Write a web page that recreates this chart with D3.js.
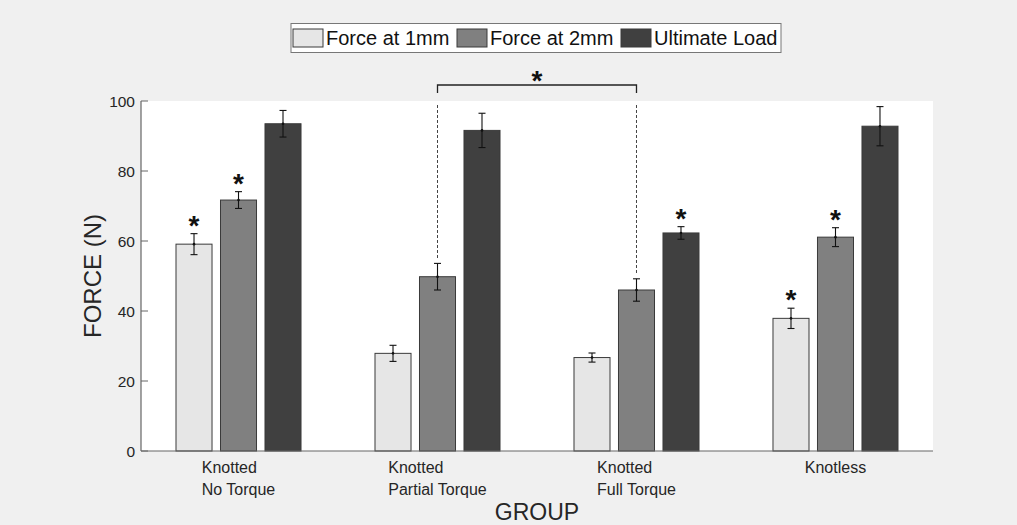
<!DOCTYPE html>
<html>
<head>
<meta charset="utf-8">
<script src="https://cdn.jsdelivr.net/npm/d3@7"></script>
<style>
  html, body { margin: 0; padding: 0; background: #f0f0f0; }
  svg { display: block; font-family: "Liberation Sans", Arial, sans-serif; }
</style>
</head>
<body>
<div id="chart"></div>
<script>
// group labels, one array of lines per group
const groups = [["Knotted", "No Torque"], ["Knotted", "Partial Torque"], ["Knotted", "Full Torque"], ["Knotless"]];
const seriesNames = ["Force at 1mm", "Force at 2mm", "Ultimate Load"];

// mean values and error (N)
const force1mm = [59.1, 27.9, 26.7, 37.9];
const err1mm = [3.0, 2.3, 1.3, 2.9];
const force2mm = [71.7, 49.8, 46.0, 61.1];
const err2mm = [2.4, 3.8, 3.2, 2.7];
const ultimate = [93.5, 91.6, 62.3, 92.8];
const errUlt = [3.8, 4.9, 1.8, 5.6];

// asterisk above bar
const sig1mm = [true, false, false, true];
const sig2mm = [true, false, false, true];
const sigUlt = [false, false, true, false];

const yTicks = [0, 20, 40, 60, 80, 100];

const series = [
    { name: seriesNames[0], values: force1mm, errs: err1mm, sig: sig1mm, fill: "#e6e6e6" },
    { name: seriesNames[1], values: force2mm, errs: err2mm, sig: sig2mm, fill: "#808080" },
    { name: seriesNames[2], values: ultimate, errs: errUlt, sig: sigUlt, fill: "#404040" }
];

const W = 1017, H = 525;
const plot = { left: 141, right: 933, top: 101, bottom: 451 };

const svg = d3.select("#chart").append("svg")
    .attr("width", W).attr("height", H);

svg.append("rect").attr("width", W).attr("height", H).attr("fill", "#f0f0f0");

const x = d3.scaleLinear().domain([0.51, 4.49]).range([plot.left, plot.right]);
const y = d3.scaleLinear().domain([0, 100]).range([plot.bottom, plot.top]);

const offset = 0.2236;   // bar offset within group (x units)
const barW = 0.181;      // bar width (x units)

// plot area
svg.append("rect")
    .attr("x", plot.left).attr("y", plot.top)
    .attr("width", plot.right - plot.left).attr("height", plot.bottom - plot.top)
    .attr("fill", "#ffffff");

// bars
series.forEach((s, j) => {
    const g = svg.append("g");
    s.values.forEach((v, i) => {
        const cx = i + 1 + (j - 1) * offset;
        g.append("rect")
            .attr("x", x(cx - barW / 2))
            .attr("y", y(v))
            .attr("width", x(cx + barW / 2) - x(cx - barW / 2))
            .attr("height", y(0) - y(v))
            .attr("fill", s.fill)
            .attr("stroke", "#3a3a3a")
            .attr("stroke-width", 1);
    });
});

// error bars + asterisks
series.forEach((s, j) => {
    const g = svg.append("g").attr("stroke", "#111").attr("stroke-width", 1.1);
    s.values.forEach((v, i) => {
        const cx = x(i + 1 + (j - 1) * offset);
        const hi = y(v + s.errs[i]), lo = y(v - s.errs[i]);
        g.append("line").attr("x1", cx).attr("x2", cx).attr("y1", hi).attr("y2", lo);
        g.append("line").attr("x1", cx - 3.5).attr("x2", cx + 3.5).attr("y1", hi).attr("y2", hi);
        g.append("line").attr("x1", cx - 3.5).attr("x2", cx + 3.5).attr("y1", lo).attr("y2", lo);
        g.append("circle").attr("cx", cx).attr("cy", y(v)).attr("r", 1.3).attr("fill", "#111").attr("stroke", "none");
        if (s.sig[i]) {
            svg.append("text")
                .attr("x", cx).attr("y", hi + 1)
                .attr("text-anchor", "middle")
                .style("font-size", "28px").style("font-weight", "bold")
                .attr("fill", "#111")
                .text("*");
        }
    });
});

// bracket between Partial Torque and Full Torque (Force at 2mm)
const bx1 = x(2), bx2 = x(3), by = 85;
svg.append("path")
    .attr("d", `M${bx1},${by + 8}V${by}H${bx2}V${by + 8}`)
    .attr("fill", "none").attr("stroke", "#222").attr("stroke-width", 1.3);
svg.append("text")
    .attr("x", (bx1 + bx2) / 2).attr("y", by + 4.5)
    .attr("text-anchor", "middle")
    .style("font-size", "28px").style("font-weight", "bold")
    .attr("fill", "#111")
    .text("*");
[[2, force2mm[1] + err2mm[1]], [3, force2mm[2] + err2mm[2]]].forEach(([gx, v]) => {
    svg.append("line")
        .attr("x1", x(gx)).attr("x2", x(gx))
        .attr("y1", 105).attr("y2", y(v) - 5)
        .attr("stroke", "#444").attr("stroke-width", 1)
        .attr("stroke-dasharray", "3,2");
});

// axes lines
svg.append("line")
    .attr("x1", plot.left).attr("x2", plot.left).attr("y1", plot.top).attr("y2", plot.bottom)
    .attr("stroke", "#666").attr("stroke-width", 1.2);
svg.append("line")
    .attr("x1", plot.left).attr("x2", plot.right).attr("y1", plot.bottom).attr("y2", plot.bottom)
    .attr("stroke", "#666").attr("stroke-width", 1.2);

const yt = svg.append("g");
yTicks.forEach(t => {
    yt.append("line")
        .attr("x1", plot.left).attr("x2", plot.left + 7)
        .attr("y1", y(t)).attr("y2", y(t))
        .attr("stroke", "#666").attr("stroke-width", 1);
    yt.append("text")
        .attr("x", plot.left - 6).attr("y", y(t) + 5.5)
        .attr("text-anchor", "end")
        .style("font-size", "15.5px")
        .attr("fill", "#262626")
        .text(t);
});

// x tick labels (lines left-aligned, block centred on the group)
const xt = svg.append("g").style("font-size", "16px").attr("fill", "#262626");
groups.forEach((lines, i) => {
    const t = xt.append("text");
    lines.forEach((ln, k) => {
        t.append("tspan").attr("y", 473 + k * 22).text(ln);
    });
    let maxW = 0;
    t.selectAll("tspan").each(function () { maxW = Math.max(maxW, this.getComputedTextLength()); });
    t.selectAll("tspan").attr("x", x(i + 1) - maxW / 2);
});

// axis titles
svg.append("text")
    .attr("transform", `translate(101, ${(plot.top + plot.bottom) / 2}) rotate(-90)`)
    .attr("text-anchor", "middle")
    .style("font-size", "24px")
    .attr("fill", "#262626")
    .text("FORCE (N)");

svg.append("text")
    .attr("x", (plot.left + plot.right) / 2).attr("y", 520)
    .attr("text-anchor", "middle")
    .style("font-size", "23px")
    .attr("fill", "#262626")
    .text("GROUP");

// legend
const legend = svg.append("g");
legend.append("rect")
    .attr("x", 291).attr("y", 23.5).attr("width", 490).attr("height", 29)
    .attr("fill", "#ffffff").attr("stroke", "#777").attr("stroke-width", 1);
const legX = [293, 457, 621];
series.forEach((s, j) => {
    legend.append("rect")
        .attr("x", legX[j]).attr("y", 29).attr("width", 30).attr("height", 18)
        .attr("fill", s.fill).attr("stroke", "#3a3a3a").attr("stroke-width", 1);
    legend.append("text")
        .attr("x", legX[j] + 33).attr("y", 45)
        .style("font-size", "20px")
        .attr("fill", "#111")
        .text(s.name);
});
</script>
</body>
</html>
